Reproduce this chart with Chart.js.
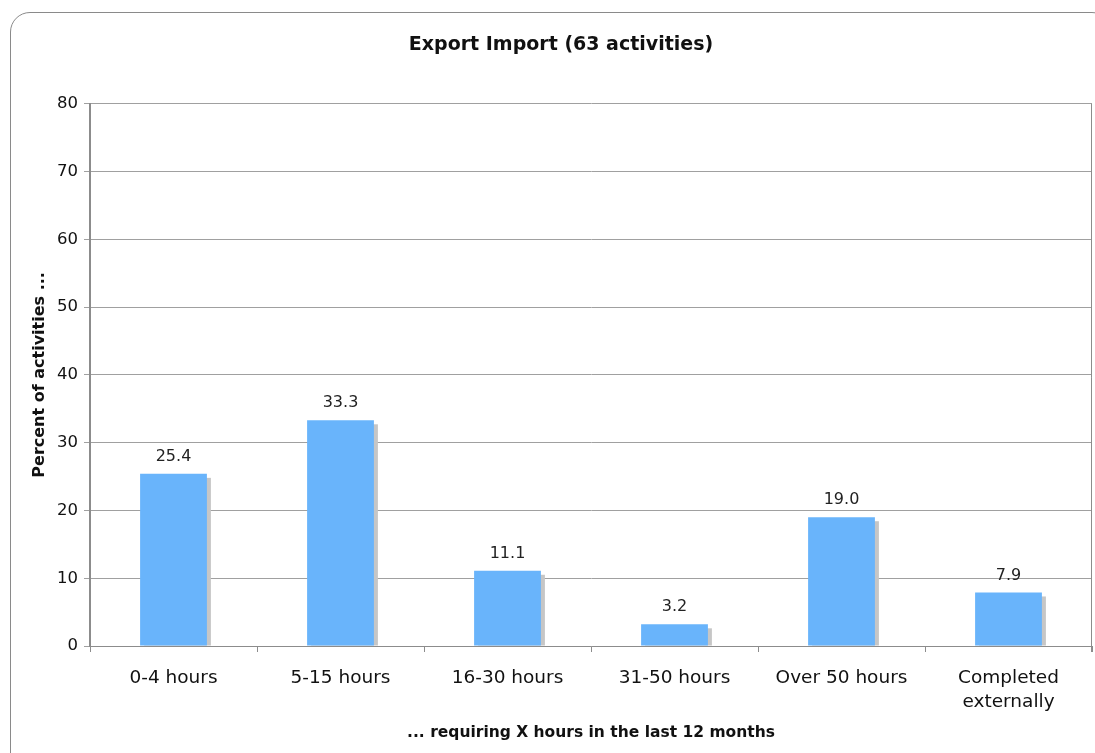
<!DOCTYPE html>
<html>
<head>
<meta charset="utf-8">
<script src="https://cdn.jsdelivr.net/npm/chart.js@4"></script>
<style>
  body { margin: 0; background: #fff; }
  #frame { position: absolute; left: 10px; top: 12px; width: 1100px; height: 760px;
           border: 1px solid #8a8a8a; border-radius: 20px; }
  #c { position: absolute; left: 0; top: 0; }
</style>
</head>
<body>
<div id="frame"></div>
<canvas id="c" width="1095" height="753"></canvas>
<script>
// data
const categories = ['0-4 hours', '5-15 hours', '16-30 hours', '31-50 hours', 'Over 50 hours', ['Completed', 'externally']];
const percents = [25.4, 33.3, 11.1, 3.2, 19.0, 7.9];
const yTicks = [0, 10, 20, 30, 40, 50, 60, 70, 80];

const FONT = "'DejaVu Sans', Verdana, sans-serif";

// gray drop shadow behind bars
const shadowPlugin = {
  id: 'shadow',
  beforeDatasetsDraw(chart) {
    const ctx = chart.ctx;
    const meta = chart.getDatasetMeta(0);
    ctx.save();
    ctx.fillStyle = '#c6c6c6';
    meta.data.forEach(b => {
      const left = b.x - b.width / 2 + 4;
      const top = b.y + 4;
      ctx.fillRect(left, top, b.width, b.base - top);
    });
    ctx.restore();
  }
};

// value labels + right border of plot
const labelPlugin = {
  id: 'labels',
  afterDatasetsDraw(chart) {
    const ctx = chart.ctx;
    const meta = chart.getDatasetMeta(0);
    const area = chart.chartArea;
    ctx.save();
    ctx.strokeStyle = '#8c8c8c';
    ctx.lineWidth = 1;
    ctx.beginPath();
    ctx.moveTo(area.right - 0.5, area.top);
    ctx.lineTo(area.right - 0.5, area.bottom + 6);
    ctx.stroke();
    ctx.fillStyle = '#222';
    ctx.font = '16px ' + FONT;
    ctx.textAlign = 'center';
    ctx.textBaseline = 'bottom';
    meta.data.forEach((b, i) => {
      ctx.fillText(percents[i].toFixed(1), b.x, b.y - 9);
    });
    ctx.restore();
  }
};

new Chart(document.getElementById('c'), {
  type: 'bar',
  data: {
    labels: categories,
    datasets: [{
      data: percents,
      backgroundColor: '#69b4fb',
      borderWidth: 0,
      barPercentage: 0.8,
      categoryPercentage: 0.5
    }]
  },
  options: {
    responsive: false,
    animation: false,
    layout: { padding: { left: 30, right: 3, top: 0, bottom: 0 } },
    plugins: {
      legend: { display: false },
      tooltip: { enabled: false },
      title: {
        display: true,
        text: 'Export Import (63 activities)',
        color: '#111',
        font: { family: FONT, size: 19, weight: 'bold' },
        padding: { top: 34, bottom: 47 }
      }
    },
    scales: {
      x: {
        offset: true,
        grid: { offset: true, drawOnChartArea: false, drawTicks: true, tickLength: 6, color: '#8c8c8c' },
        border: { color: '#8c8c8c', width: 1 },
        ticks: { color: '#111', font: { family: FONT, size: 18.5, lineHeight: 1.25 }, padding: 15, maxRotation: 0, autoSkip: false },
        title: {
          display: true,
          text: '... requiring X hours in the last 12 months',
          color: '#111',
          font: { family: FONT, size: 15.5, weight: 'bold' },
          padding: { top: 8, bottom: 11 }
        },
        afterFit(s) { s.height = 107; }
      },
      y: {
        min: 0,
        max: 80,
        afterBuildTicks(s) { s.ticks = yTicks.map(v => ({ value: v })); },
        grid: { color: '#a0a0a0', tickLength: 6, lineWidth: 1 },
        border: { color: '#8c8c8c', width: 2 },
        ticks: { color: '#111', font: { family: FONT, size: 16.5 }, padding: 6 },
        title: {
          display: true,
          text: 'Percent of activities ...',
          color: '#111',
          font: { family: FONT, size: 16, weight: 'bold' },
          padding: { top: 0, bottom: 6 }
        },
        afterFit(s) { s.width = 60; }
      }
    }
  },
  plugins: [shadowPlugin, labelPlugin]
});
</script>
</body>
</html>
